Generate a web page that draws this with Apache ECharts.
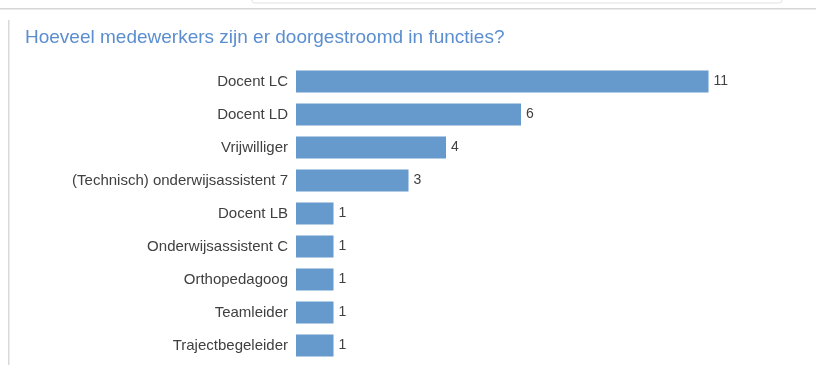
<!DOCTYPE html>
<html>
<head>
<meta charset="utf-8">
<script src="https://cdn.jsdelivr.net/npm/echarts@6/dist/echarts.min.js"></script>
<style>
html,body{margin:0;padding:0;background:#fff;}
#chart{width:816px;height:365px;}
</style>
</head>
<body>
<div id="chart"></div>
<script>
const titleText = 'Hoeveel medewerkers zijn er doorgestroomd in functies?';
const categories = [
  'Docent LC',
  'Docent LD',
  'Vrijwilliger',
  '(Technisch) onderwijsassistent 7',
  'Docent LB',
  'Onderwijsassistent C',
  'Orthopedagoog',
  'Teamleider',
  'Trajectbegeleider'
];
const values = [11, 6, 4, 3, 1, 1, 1, 1, 1];

const chart = echarts.init(document.getElementById('chart'), null, {renderer: 'canvas'});
chart.setOption({
  animation: false,
  backgroundColor: '#ffffff',
  title: {
    text: titleText,
    left: 20,
    top: 23,
    textStyle: {
      fontFamily: 'Liberation Sans, Arial, sans-serif',
      fontSize: 19,
      fontWeight: 'normal',
      color: '#5b8ed0'
    }
  },
  graphic: [
    {type: 'rect', shape: {x: 0, y: 8, width: 816, height: 1.5}, style: {fill: '#d6d6d6'}, silent: true},
    {type: 'rect', shape: {x: 8, y: 20, width: 1.5, height: 345}, style: {fill: '#d9d9d9'}, silent: true},
    {type: 'rect', shape: {x: 252, y: -6, width: 530, height: 9, r: 3}, style: {fill: 'none', stroke: '#e2e2e2', lineWidth: 1}, silent: true}
  ],
  grid: {left: 296, right: 70, top: 65, height: 297, containLabel: false},
  xAxis: {
    type: 'value',
    min: 0,
    max: 12,
    show: false
  },
  yAxis: {
    type: 'category',
    data: categories,
    inverse: true,
    axisLine: {show: false},
    axisTick: {show: false},
    splitLine: {show: false},
    axisLabel: {
      margin: 8,
      fontFamily: 'Liberation Sans, Arial, sans-serif',
      fontSize: 15,
      color: '#404040'
    }
  },
  series: [{
    type: 'bar',
    data: values,
    barWidth: 22,
    itemStyle: {color: '#6699cc'},
    label: {
      show: true,
      position: 'right',
      distance: 5,
      fontFamily: 'Liberation Sans, Arial, sans-serif',
      fontSize: 14,
      color: '#404040'
    }
  }]
});
</script>
</body>
</html>
